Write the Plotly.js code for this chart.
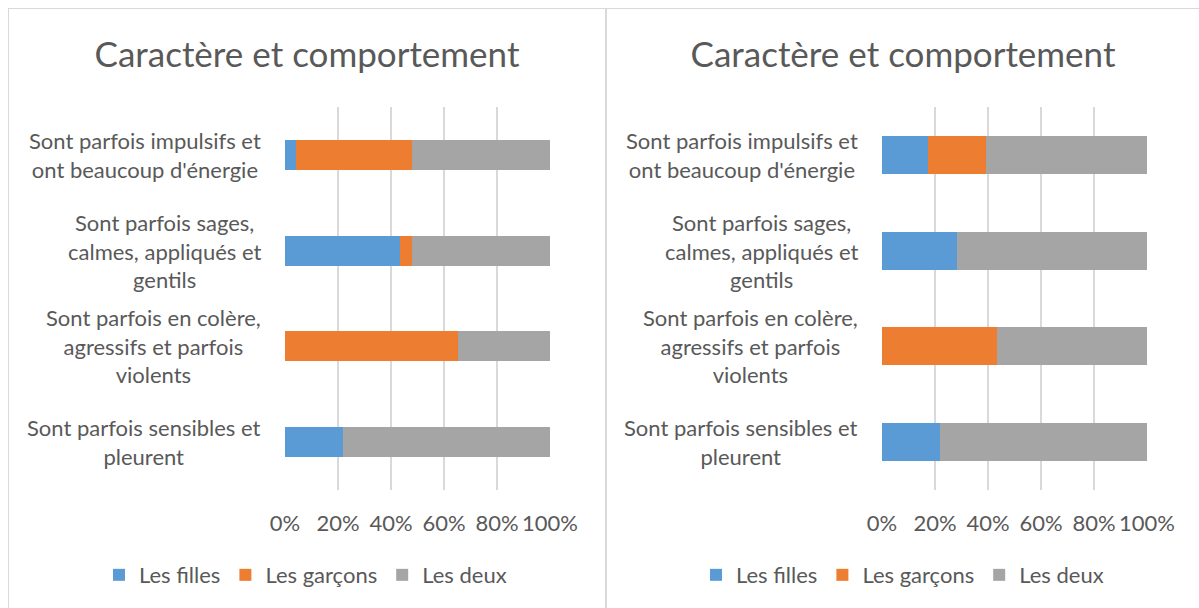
<!DOCTYPE html>
<html>
<head>
<meta charset="utf-8">
<script src="https://cdn.plot.ly/plotly-3.0.1.min.js"></script>
<style>
  html, body { margin:0; padding:0; background:#ffffff; width:1199px; height:608px; overflow:hidden; }
  #c1 { position:absolute; left:8px; top:8px; width:596px; height:599px;
        border-left:1px solid #d9d9d9; border-top:1px solid #d9d9d9; border-right:1px solid #d9d9d9; }
  #c2 { position:absolute; left:606px; top:8px; width:592px; height:599px;
        border-left:1px solid #d9d9d9; border-top:1px solid #d9d9d9; }
</style>
</head>
<body>
<div id="c1"></div>
<div id="c2"></div>
<script>
// ---- data ----
const chartTitle = "Caractère et comportement";
const categories = [
  "Sont parfois impulsifs et<br>ont beaucoup d'énergie",
  "Sont parfois sages,<br>calmes, appliqués et<br>gentils",
  "Sont parfois en colère,<br>agressifs et parfois<br>violents",
  "Sont parfois sensibles et<br>pleurent"
];
const seriesNames = ["Les filles", "Les garçons", "Les deux"];
const seriesColors = ["#5b9bd5", "#ed7d31", "#a5a5a5"];
const tickValues = [0, 20, 40, 60, 80, 100];
const tickLabels = ["0%", "20%", "40%", "60%", "80%", "100%"];

// left chart
const leftFilles  = [4.3, 43.5, 0, 21.7];
const leftGarcons = [43.5, 4.3, 65.2, 0];
const leftDeux    = [52.2, 52.2, 34.8, 78.3];
// right chart
const rightFilles  = [17.4, 28.4, 0, 21.7];
const rightGarcons = [21.7, 0, 43.5, 0];
const rightDeux    = [60.9, 71.6, 56.5, 78.3];

const FONT = "Lato, 'Open Sans', sans-serif";
const TXT = "#595959";

function makeChart(divId, series, width, ml, mr, bargap) {
  const plotW = width - ml - mr;
  const traces = series.map((vals, i) => ({
    type: 'bar', orientation: 'h',
    x: vals, y: categories,
    name: seriesNames[i],
    marker: { color: seriesColors[i], line: { width: 0 } },
    hoverinfo: 'x+name'
  }));
  const annotations = categories.map(c => ({
    xref: 'paper', yref: 'y', x: 0, y: c,
    xanchor: 'right', yanchor: 'middle', xshift: -22,
    align: 'center', showarrow: false, text: c,
    font: { family: FONT, size: 22, color: TXT }
  }));
  const layout = {
    width: width, height: 599,
    margin: { l: ml, r: mr, t: 98, b: 118, pad: 0 },
    paper_bgcolor: '#ffffff', plot_bgcolor: '#ffffff',
    barmode: 'stack', bargap: bargap,
    title: {
      text: chartTitle, xref: 'container', yref: 'container',
      x: 0.5, xanchor: 'center', y: 0.923, yanchor: 'middle',
      font: { family: FONT, size: 35, color: TXT }
    },
    xaxis: {
      range: [0, 100], tickmode: 'array', tickvals: tickValues, ticktext: tickLabels,
      showgrid: true, gridcolor: '#d9d9d9', gridwidth: 1.3,
      zeroline: false, showline: false, ticks: '',
      ticklabelstandoff: 18,
      tickfont: { family: FONT, size: 22, color: TXT },
      fixedrange: true
    },
    yaxis: {
      type: 'category', categoryorder: 'array', categoryarray: categories,
      autorange: 'reversed', showticklabels: false, showgrid: false,
      zeroline: false, showline: false, ticks: '', fixedrange: true
    },
    showlegend: true,
    legend: {
      orientation: 'h', xref: 'paper', yref: 'paper',
      x: -186 / plotW, xanchor: 'left', y: -0.222, yanchor: 'middle',
      traceorder: 'normal',
      font: { family: FONT, size: 22, color: TXT },
      itemclick: false, itemdoubleclick: false
    },
    annotations: annotations
  };
  Plotly.newPlot(divId, traces, layout, { displayModeBar: false, staticPlot: true });
}

makeChart('c1', [leftFilles, leftGarcons, leftDeux], 596, 276, 55, 0.687);
makeChart('c2', [rightFilles, rightGarcons, rightDeux], 592, 275, 52, 0.603);
</script>
</body>
</html>
